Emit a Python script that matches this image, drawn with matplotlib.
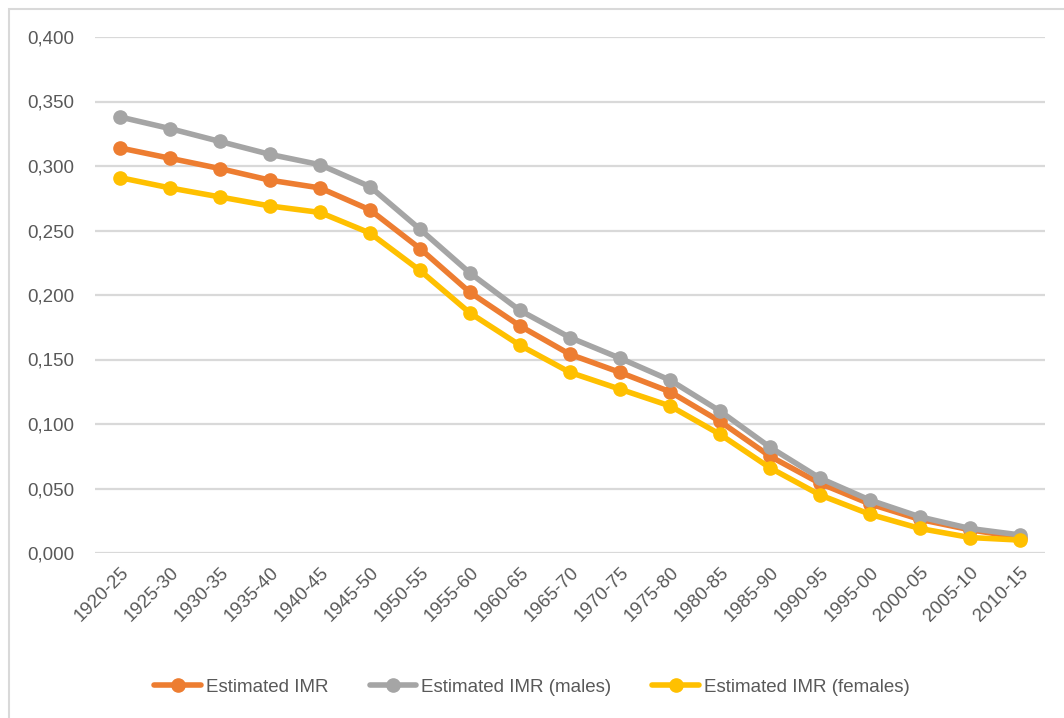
import matplotlib
matplotlib.use("Agg")
import matplotlib.pyplot as plt
from matplotlib.patches import Rectangle

periods = ["1920-25", "1925-30", "1930-35", "1935-40", "1940-45", "1945-50",
           "1950-55", "1955-60", "1960-65", "1965-70", "1970-75", "1975-80",
           "1980-85", "1985-90", "1990-95", "1995-00", "2000-05", "2005-10",
           "2010-15"]

imr_total = [0.314, 0.306, 0.298, 0.289, 0.283, 0.266, 0.236, 0.202, 0.176,
             0.154, 0.140, 0.125, 0.102, 0.075, 0.054, 0.038, 0.026, 0.018,
             0.012]
imr_males = [0.338, 0.329, 0.319, 0.309, 0.301, 0.284, 0.251, 0.217, 0.188,
             0.167, 0.151, 0.134, 0.110, 0.082, 0.058, 0.041, 0.028, 0.019,
             0.014]
imr_females = [0.291, 0.283, 0.276, 0.269, 0.264, 0.248, 0.219, 0.186, 0.161,
               0.140, 0.127, 0.114, 0.092, 0.066, 0.045, 0.030, 0.019, 0.012,
               0.010]

y_ticks = [0.0, 0.05, 0.10, 0.15, 0.20, 0.25, 0.30, 0.35, 0.40]

plt.rcParams["font.family"] = ["Liberation Sans", "DejaVu Sans"]

text_color = "#595959"
W, H = 1064, 718
fig = plt.figure(figsize=(W / 100, H / 100), dpi=100)

# chart frame (open at the right and bottom edges)
fig.patches.append(Rectangle((9 / W, -0.1), 1.2, (H - 9) / H + 0.1,
                             transform=fig.transFigure, fill=False,
                             edgecolor="#d9d9d9", linewidth=1.5))

ax = fig.add_axes([95 / W, (H - 553) / H, 950 / W, (553 - 37) / H])
x = range(len(periods))
series = [
    (imr_total, "#ED7D31", "Estimated IMR"),
    (imr_males, "#A5A5A5", "Estimated IMR (males)"),
    (imr_females, "#FFC000", "Estimated IMR (females)"),
]
for vals, col, lab in series:
    ax.plot(x, vals, color=col, linewidth=4, marker="o", markersize=9.5,
            label=lab, solid_capstyle="round", zorder=3)

ax.set_xlim(-0.5, len(periods) - 0.5)
ax.set_ylim(0, 0.4)
ax.set_yticks(y_ticks)
ax.set_yticklabels([f"{v:.3f}".replace(".", ",") for v in y_ticks])
ax.set_xticks(list(x))
ax.set_xticklabels(periods, rotation=45, ha="right", va="top",
                   rotation_mode="anchor")
ax.grid(axis="y", color="#d9d9d9", linewidth=1.6, zorder=0)
for s in ax.spines.values():
    s.set_visible(False)
ax.tick_params(axis="both", length=0, colors=text_color, labelsize=13.5)
ax.tick_params(axis="y", pad=15)
ax.tick_params(axis="x", pad=8)

leg = fig.legend(loc="center", bbox_to_anchor=(0.5, (H - 687) / H), ncol=3,
                 frameon=False, fontsize=13.5, handlelength=2.5,
                 handletextpad=0.25, columnspacing=2.2)
for t in leg.get_texts():
    t.set_color(text_color)

fig.savefig("out.png", dpi=100, facecolor="white")
